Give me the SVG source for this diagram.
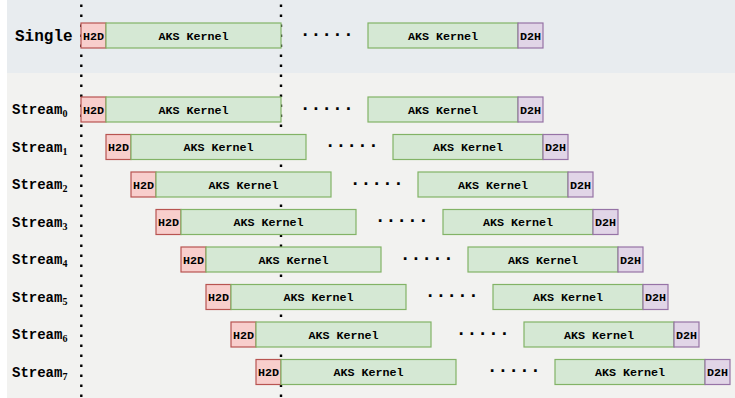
<svg xmlns="http://www.w3.org/2000/svg" width="735" height="398" viewBox="0 0 735 398">
<style>
.h2d{fill:#f8cecc;stroke:#b85450;stroke-width:1.2}
.ker{fill:#d5e8d4;stroke:#82b366;stroke-width:1.2}
.d2h{fill:#e1d5e7;stroke:#9673a6;stroke-width:1.2}
.bt{font-family:"Liberation Mono",monospace;font-weight:bold;font-size:11.7px;fill:#000;text-anchor:middle}
.lab{font-family:"Liberation Mono",monospace;font-weight:bold;font-size:14px;fill:#000}
.sub{font-family:"Liberation Serif",serif;font-size:10px}
.dots{font-family:"Liberation Mono",monospace;font-weight:bold;font-size:18px;fill:#000;text-anchor:middle}
.vl{stroke:#000;stroke-width:2.4;stroke-dasharray:2.4 7.6;fill:none}
</style>
<rect x="0" y="0" width="735" height="398" fill="#ffffff"/>
<rect x="7" y="0" width="728" height="73" fill="#e8ecef"/>
<rect x="7" y="73" width="728" height="325" fill="#f2f2f0"/>
<g id="connectors">
<line class="vl" x1="81.3" y1="4.5" x2="81.3" y2="398"/>
<line class="vl" x1="281" y1="4.5" x2="281" y2="398"/>
</g>
<g id="single">
<text x="15" y="40.5" class="lab" style="font-size:16px">Single</text>
<g id="single-h2d"><rect class="h2d" x="81" y="23" width="25" height="25"/><text class="bt" x="93.5" y="39.5">H2D</text></g>
<g id="single-k1"><rect class="ker" x="106" y="23" width="175" height="25"/><text class="bt" x="193.5" y="39.5">AKS Kernel</text></g>
<text class="dots" x="326.7" y="35.8">.....</text>
<g id="single-k2"><rect class="ker" x="368" y="23" width="150" height="25"/><text class="bt" x="443" y="39.5">AKS Kernel</text></g>
<g id="single-d2h"><rect class="d2h" x="518" y="23" width="25" height="25"/><text class="bt" x="530.5" y="39.5">D2H</text></g>
</g>
<g id="stream0">
<text x="12" y="114" class="lab">Stream<tspan class="sub" dy="3">0</tspan></text>
<g id="s0-h2d"><rect class="h2d" x="81" y="97" width="25" height="25"/><text class="bt" x="93.5" y="113.5">H2D</text></g>
<g id="s0-k1"><rect class="ker" x="106" y="97" width="175" height="25"/><text class="bt" x="193.5" y="113.5">AKS Kernel</text></g>
<text class="dots" x="326.7" y="109.8">.....</text>
<g id="s0-k2"><rect class="ker" x="368" y="97" width="150" height="25"/><text class="bt" x="443" y="113.5">AKS Kernel</text></g>
<g id="s0-d2h"><rect class="d2h" x="518" y="97" width="25" height="25"/><text class="bt" x="530.5" y="113.5">D2H</text></g>
</g>
<g id="stream1">
<text x="12" y="151.5" class="lab">Stream<tspan class="sub" dy="3">1</tspan></text>
<g id="s1-h2d"><rect class="h2d" x="106" y="134.5" width="25" height="25"/><text class="bt" x="118.5" y="151">H2D</text></g>
<g id="s1-k1"><rect class="ker" x="131" y="134.5" width="175" height="25"/><text class="bt" x="218.5" y="151">AKS Kernel</text></g>
<text class="dots" x="351.7" y="147.3">.....</text>
<g id="s1-k2"><rect class="ker" x="393" y="134.5" width="150" height="25"/><text class="bt" x="468" y="151">AKS Kernel</text></g>
<g id="s1-d2h"><rect class="d2h" x="543" y="134.5" width="25" height="25"/><text class="bt" x="555.5" y="151">D2H</text></g>
</g>
<g id="stream2">
<text x="12" y="189" class="lab">Stream<tspan class="sub" dy="3">2</tspan></text>
<g id="s2-h2d"><rect class="h2d" x="131" y="172" width="25" height="25"/><text class="bt" x="143.5" y="188.5">H2D</text></g>
<g id="s2-k1"><rect class="ker" x="156" y="172" width="175" height="25"/><text class="bt" x="243.5" y="188.5">AKS Kernel</text></g>
<text class="dots" x="376.7" y="184.8">.....</text>
<g id="s2-k2"><rect class="ker" x="418" y="172" width="150" height="25"/><text class="bt" x="493" y="188.5">AKS Kernel</text></g>
<g id="s2-d2h"><rect class="d2h" x="568" y="172" width="25" height="25"/><text class="bt" x="580.5" y="188.5">D2H</text></g>
</g>
<g id="stream3">
<text x="12" y="226.5" class="lab">Stream<tspan class="sub" dy="3">3</tspan></text>
<g id="s3-h2d"><rect class="h2d" x="156" y="209.5" width="25" height="25"/><text class="bt" x="168.5" y="226">H2D</text></g>
<g id="s3-k1"><rect class="ker" x="181" y="209.5" width="175" height="25"/><text class="bt" x="268.5" y="226">AKS Kernel</text></g>
<text class="dots" x="401.7" y="222.3">.....</text>
<g id="s3-k2"><rect class="ker" x="443" y="209.5" width="150" height="25"/><text class="bt" x="518" y="226">AKS Kernel</text></g>
<g id="s3-d2h"><rect class="d2h" x="593" y="209.5" width="25" height="25"/><text class="bt" x="605.5" y="226">D2H</text></g>
</g>
<g id="stream4">
<text x="12" y="264" class="lab">Stream<tspan class="sub" dy="3">4</tspan></text>
<g id="s4-h2d"><rect class="h2d" x="181" y="247" width="25" height="25"/><text class="bt" x="193.5" y="263.5">H2D</text></g>
<g id="s4-k1"><rect class="ker" x="206" y="247" width="175" height="25"/><text class="bt" x="293.5" y="263.5">AKS Kernel</text></g>
<text class="dots" x="426.7" y="259.8">.....</text>
<g id="s4-k2"><rect class="ker" x="468" y="247" width="150" height="25"/><text class="bt" x="543" y="263.5">AKS Kernel</text></g>
<g id="s4-d2h"><rect class="d2h" x="618" y="247" width="25" height="25"/><text class="bt" x="630.5" y="263.5">D2H</text></g>
</g>
<g id="stream5">
<text x="12" y="301.5" class="lab">Stream<tspan class="sub" dy="3">5</tspan></text>
<g id="s5-h2d"><rect class="h2d" x="206" y="284.5" width="25" height="25"/><text class="bt" x="218.5" y="301">H2D</text></g>
<g id="s5-k1"><rect class="ker" x="231" y="284.5" width="175" height="25"/><text class="bt" x="318.5" y="301">AKS Kernel</text></g>
<text class="dots" x="451.7" y="297.3">.....</text>
<g id="s5-k2"><rect class="ker" x="493" y="284.5" width="150" height="25"/><text class="bt" x="568" y="301">AKS Kernel</text></g>
<g id="s5-d2h"><rect class="d2h" x="643" y="284.5" width="25" height="25"/><text class="bt" x="655.5" y="301">D2H</text></g>
</g>
<g id="stream6">
<text x="12" y="339" class="lab">Stream<tspan class="sub" dy="3">6</tspan></text>
<g id="s6-h2d"><rect class="h2d" x="231" y="322" width="25" height="25"/><text class="bt" x="243.5" y="338.5">H2D</text></g>
<g id="s6-k1"><rect class="ker" x="256" y="322" width="175" height="25"/><text class="bt" x="343.5" y="338.5">AKS Kernel</text></g>
<text class="dots" x="482.7" y="334.8">.....</text>
<g id="s6-k2"><rect class="ker" x="524" y="322" width="150" height="25"/><text class="bt" x="599" y="338.5">AKS Kernel</text></g>
<g id="s6-d2h"><rect class="d2h" x="674" y="322" width="25" height="25"/><text class="bt" x="686.5" y="338.5">D2H</text></g>
</g>
<g id="stream7">
<text x="12" y="376.5" class="lab">Stream<tspan class="sub" dy="3">7</tspan></text>
<g id="s7-h2d"><rect class="h2d" x="256" y="359.5" width="25" height="25"/><text class="bt" x="268.5" y="376">H2D</text></g>
<g id="s7-k1"><rect class="ker" x="281" y="359.5" width="175" height="25"/><text class="bt" x="368.5" y="376">AKS Kernel</text></g>
<text class="dots" x="513.7" y="372.3">.....</text>
<g id="s7-k2"><rect class="ker" x="555" y="359.5" width="150" height="25"/><text class="bt" x="630" y="376">AKS Kernel</text></g>
<g id="s7-d2h"><rect class="d2h" x="705" y="359.5" width="25" height="25"/><text class="bt" x="717.5" y="376">D2H</text></g>
</g>
</svg>
